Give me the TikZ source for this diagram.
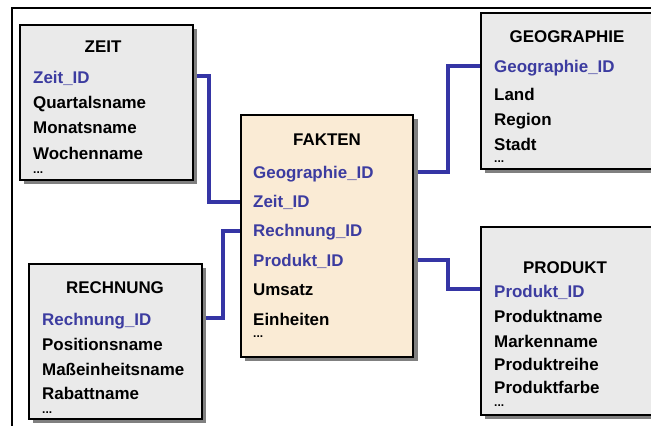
\documentclass[tikz,border=0pt]{standalone}
\usepackage{fontspec}
\setmainfont{Liberation Sans}
\definecolor{keyblue}{HTML}{3C3CA0}
\definecolor{linkblue}{HTML}{3535A5}
\definecolor{dimfill}{HTML}{EAEAEA}
\definecolor{factfill}{HTML}{FAEBD5}
\definecolor{shadowgray}{HTML}{808080}
\begin{document}
\begin{tikzpicture}[x=1bp,y=-1bp,
  table/.style={draw=black,line width=2bp},
  shade/.style={fill=shadowgray},
  attr/.style={anchor=base west,inner sep=0pt,font=\bfseries\fontsize{17}{19}\selectfont},
  keyattr/.style={attr,text=keyblue},
  title/.style={anchor=base,inner sep=0pt,font=\bfseries\fontsize{17}{19}\selectfont},
  dots/.style={anchor=base west,inner sep=0pt,font=\bfseries\fontsize{12}{13}\selectfont},
  link/.style={draw=linkblue,line width=3.2bp}]
\useasboundingbox (0,0) rectangle (651,425);
\begin{scope}
\clip (0,0) rectangle (651,425);
% outer frame
\draw[line width=2bp] (12,430) -- (12,8) -- (660,8);

% connectors
\coordinate (zr) at (193,76);
\coordinate (fz) at (241,202);
\coordinate (rr) at (202,318);
\coordinate (fr) at (241,231);
\coordinate (fg) at (413,172);
\coordinate (gl) at (481,66);
\coordinate (fp) at (413,260);
\coordinate (pl) at (481,289);
\draw[link] (zr) -- ++(16,0) |- (fz);
\draw[link] (rr) -- ++(21,0) |- (fr);
\draw[link] (fg) -- ++(35,0) |- (gl);
\draw[link] (fp) -- ++(35,0) |- (pl);

% ZEIT
\fill[shade] (24,29) rectangle (197,184);
\draw[table,fill=dimfill] (20,25) rectangle (193,180);
\node[title] (zt) at (103,52) {ZEIT};
\node[keyattr] (z1) at (33,83) {Zeit\_ID};
\node[attr] (z2) at (33,108) {Quartalsname};
\node[attr] (z3) at (33,133) {Monatsname};
\node[attr] (z4) at (33,159) {Wochenname};
\node[dots] (z5) at (33,173) {...};

% FAKTEN
\fill[shade] (245,119) rectangle (418,361);
\draw[table,fill=factfill] (241,115) rectangle (413,357);
\node[title] (ft) at (327,145) {FAKTEN};
\node[keyattr] (f1) at (253,178) {Geographie\_ID};
\node[keyattr] (f2) at (253,207) {Zeit\_ID};
\node[keyattr] (f3) at (253,236) {Rechnung\_ID};
\node[keyattr] (f4) at (253,266) {Produkt\_ID};
\node[attr] (f5) at (253,295) {Umsatz};
\node[attr] (f6) at (253,325) {Einheiten};
\node[dots] (f7) at (253,337) {...};

% GEOGRAPHIE
\fill[shade] (485,17) rectangle (670,173);
\draw[table,fill=dimfill] (481,13) rectangle (665,169);
\node[title] (gt) at (567,42) {GEOGRAPHIE};
\node[keyattr] (g1) at (494,72) {Geographie\_ID};
\node[attr] (g2) at (494,100) {Land};
\node[attr] (g3) at (494,125) {Region};
\node[attr] (g4) at (494,150) {Stadt};
\node[dots] (g5) at (494,162) {...};

% RECHNUNG
\fill[shade] (33,268) rectangle (206,423);
\draw[table,fill=dimfill] (29,264) rectangle (202,419);
\node[title] (rt) at (115,293) {RECHNUNG};
\node[keyattr] (r1) at (42,325) {Rechnung\_ID};
\node[attr] (r2) at (42,350) {Positionsname};
\node[attr] (r3) at (42,375) {Maßeinheitsname};
\node[attr] (r4) at (42,399) {Rabattname};
\node[dots] (r5) at (42,413) {...};

% PRODUKT
\fill[shade] (485,231) rectangle (670,419);
\draw[table,fill=dimfill] (481,227) rectangle (665,415);
\node[title] (pt) at (565,273) {PRODUKT};
\node[keyattr] (p1) at (494,297) {Produkt\_ID};
\node[attr] (p2) at (494,322) {Produktname};
\node[attr] (p3) at (494,347) {Markenname};
\node[attr] (p4) at (494,370) {Produktreihe};
\node[attr] (p5) at (494,393) {Produktfarbe};
\node[dots] (p6) at (494,406) {...};
\end{scope}
\end{tikzpicture}
\end{document}
